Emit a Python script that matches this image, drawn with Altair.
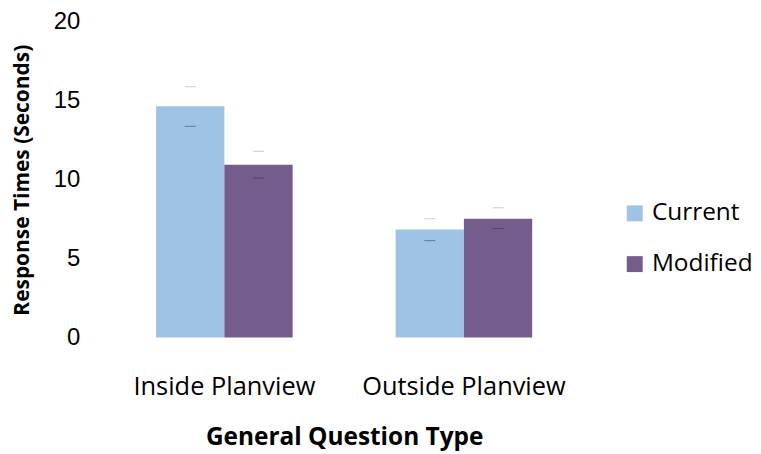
import altair as alt
import pandas as pd

groups = ["Inside Planview", "Inside Planview", "Outside Planview", "Outside Planview"]
series = ["Current", "Modified", "Current", "Modified"]
means = [14.65, 10.94, 6.84, 7.53]
err_high = [15.89, 11.80, 7.53, 8.22]
err_low = [13.38, 10.10, 6.14, 6.90]

df = pd.DataFrame({"group": groups, "series": series, "mean": means,
                   "hi": err_high, "lo": err_low})

colors = ["#9FC2E7", "#745D8C"]

xenc = alt.X("group:N", title="General Question Type",
             scale=alt.Scale(paddingInner=0.43, paddingOuter=0.215),
             axis=alt.Axis(labelAngle=0, labelFont="Open Sans", labelFontSize=25.5,
                           labelColor="#000", labelPadding=37, labelLimit=0, ticks=False,
                           domain=False, titleFont="Open Sans", titleFontSize=24.5,
                           titleFontWeight="bold", titleColor="#000", titlePadding=26))
xoff = alt.XOffset("series:N", sort=["Current", "Modified"])

bars = alt.Chart(df).mark_bar().encode(
    x=xenc,
    xOffset=xoff,
    y=alt.Y("mean:Q", title="Response Times (Seconds)",
            scale=alt.Scale(domain=[0, 20], nice=False),
            axis=alt.Axis(values=[0, 5, 10, 15, 20], grid=False, domain=False, ticks=False,
                          labelFont="Liberation Sans", labelFontSize=24, labelColor="#000",
                          labelPadding=25, titleFont="Open Sans", titleFontSize=21,
                          titleFontWeight="bold", titleColor="#000", titlePadding=21)),
    color=alt.Color("series:N", sort=["Current", "Modified"],
                    scale=alt.Scale(domain=["Current", "Modified"], range=colors),
                    legend=alt.Legend(title=None, orient="none", legendX=520, legendY=180,
                                      symbolType="square", symbolSize=256, symbolStrokeWidth=0,
                                      labelFont="Open Sans", labelFontSize=24.5, labelColor="#000",
                                      rowPadding=26, padding=0, labelOffset=5, labelLimit=0)),
)

hi_ticks = alt.Chart(df).mark_tick(size=11, thickness=1, color="#b5b5b5").encode(
    x="group:N", xOffset=xoff, y="hi:Q")
lo_ticks = alt.Chart(df).mark_tick(size=11, thickness=1, color="#303030", opacity=0.5).encode(
    x="group:N", xOffset=xoff, y="lo:Q")

chart = alt.layer(bars, hi_ticks, lo_ticks).properties(
    width=481, height=317,
    autosize=alt.AutoSizeParams(type="none"),
    padding={"left": 97, "top": 13, "right": 170, "bottom": 116},
).configure_view(stroke=None)

chart.save("out.html", embed_options={"renderer": "svg", "actions": False})
